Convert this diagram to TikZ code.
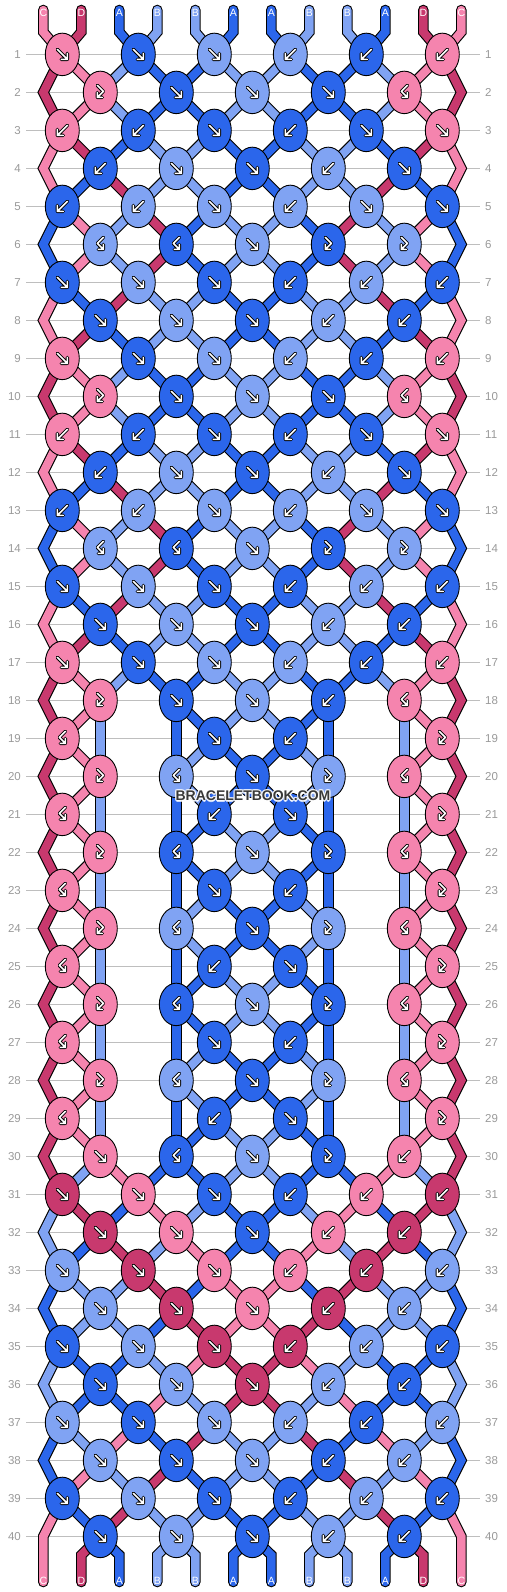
\documentclass[tikz,border=0pt]{standalone}
\usepackage{fontspec}
\setmainfont{Liberation Sans}
\usetikzlibrary{shapes.geometric}
\definecolor{strA}{HTML}{2B66EB}
\definecolor{strB}{HTML}{80A3F3}
\definecolor{strC}{HTML}{F584AE}
\definecolor{strD}{HTML}{C8396E}
\definecolor{rowgrey}{HTML}{BEBEBE}
\definecolor{numgrey}{HTML}{999999}
\definecolor{markgrey}{HTML}{383838}

\pgfdeclarelayer{grid}
\pgfdeclarelayer{outline}
\pgfdeclarelayer{strand}
\pgfsetlayers{grid,outline,strand,main}

\tikzset{
  knot/.style={ellipse,draw=black,line width=0.9pt,minimum width=34pt,minimum height=42.5pt,inner sep=0pt},
  strand edge/.style={draw=black,line width=10.6pt,line cap=round,line join=miter},
  strand core/.style={line width=8.4pt,line cap=round,line join=miter},
  rowline/.style={draw=rowgrey,line width=1.2pt},
  rownum/.style={text=numgrey,inner sep=0pt,font=\fontsize{11.5}{12}\selectfont},
  endlabel/.style={text=white,inner sep=0pt,font=\fontsize{10.5}{11}\selectfont},
  watermark/.style={text=markgrey,inner sep=0pt,font=\bfseries\fontsize{14}{14}\selectfont},
  halo/.style={watermark,text=white,text opacity=0.75},
  arrow edge/.style={draw=black,line width=3.4pt,line cap=round,line join=round},
  arrow core/.style={draw=white,line width=1.6pt,line cap=round,line join=round},
  pics/arrow f/.style={code={
    \draw[arrow edge] (-5,-5) -- (5,5) (-1,5) -- (5,5) -- (5,-1);
    \draw[arrow core] (-5,-5) -- (5,5) (-1,5) -- (5,5) -- (5,-1);}},
  pics/arrow b/.style={code={
    \draw[arrow edge] (5,-5) -- (-5,5) (1,5) -- (-5,5) -- (-5,-1);
    \draw[arrow core] (5,-5) -- (-5,5) (1,5) -- (-5,5) -- (-5,-1);}},
  pics/arrow fb/.style={code={
    \draw[arrow edge] (-3,-7) -- (3,-1) -- (-3,5) (2,5) -- (-3,5) -- (-3,0);
    \draw[arrow core] (-3,-7) -- (3,-1) -- (-3,5) (2,5) -- (-3,5) -- (-3,0);}},
  pics/arrow bf/.style={code={
    \draw[arrow edge] (3,-7) -- (-3,-1) -- (3,5) (-2,5) -- (3,5) -- (3,0);
    \draw[arrow core] (3,-7) -- (-3,-1) -- (3,5) (-2,5) -- (3,5) -- (3,0);}},
}

% strings are collected here and drawn at the end, under the knots
\gdef\strandlist{}
\newcommand\strandto[2]{%
  \edef\strandpath{\csname from#1\endcsname -- #2}%
  \edef\strandcol{str\csname sc#1\endcsname}%
  \xdef\strandlist{\unexpanded\expandafter{\strandlist}\noexpand\drawstrand{\strandcol}{\strandpath}}%
  \expandafter\xdef\csname from#1\endcsname{#2}}
\newcommand\passby[2]{%
  \expandafter\xdef\csname from#1\endcsname{\csname from#1\endcsname -- (p#2-#1)}}
\newcommand\drawedge[2]{\draw[strand edge] #2;}
\newcommand\drawcore[2]{\draw[strand core,draw=#1] #2;}
\newcommand\tieknot[3]{%
  \coordinate (p\row-\pa) at (\xk,\yr);
  \coordinate (p\row-\pb) at (\xk,\yr);
  \strandto{\pa}{(p\row-\pa)}%
  \strandto{\pb}{(p\row-\pb)}%
  \edef\lc{\csname sc\pa\endcsname}%
  \edef\rc{\csname sc\pb\endcsname}%
  \edef\kc{str\csname #1c\endcsname}%
  \node[knot,fill=\kc] (k\row-\kn) at (\xk,\yr) {};
  \pic at (k\row-\kn) {#3};
  \ifnum#2=1
    \expandafter\xdef\csname sc\pa\endcsname{\rc}%
    \expandafter\xdef\csname sc\pb\endcsname{\lc}%
  \fi}
\newcommand\knotf{\tieknot{l}{1}{arrow f}}
\newcommand\knotb{\tieknot{r}{1}{arrow b}}
\newcommand\knotfb{\tieknot{l}{0}{arrow fb}}
\newcommand\knotbf{\tieknot{r}{0}{arrow bf}}
\newcommand\knotn{%
  \coordinate (p\row-\pa) at (\xk-38,\yr);
  \coordinate (p\row-\pb) at (\xk+38,\yr);
  \passby{\pa}{\row}\passby{\pb}{\row}}

\def\knotrows{%
{f,f,f,b,b,b},{fb,f,f,f,bf},{b,b,f,b,f,f},{b,f,f,b,f},%
{b,b,f,b,f,f},{bf,bf,f,fb,fb},{f,f,f,b,b,b},{f,f,f,b,b},%
{f,f,f,b,b,b},{fb,f,f,f,bf},{b,b,f,b,f,f},{b,f,f,b,f},%
{b,b,f,b,f,f},{bf,bf,f,fb,fb},{f,f,f,b,b,b},{f,f,f,b,b},%
{f,f,f,b,b,b},{fb,f,f,b,bf},{bf,n,f,b,n,fb},{fb,bf,f,fb,bf},%
{bf,n,b,f,n,fb},{fb,bf,f,fb,bf},{bf,n,f,b,n,fb},{fb,bf,f,fb,bf},%
{bf,n,b,f,n,fb},{fb,bf,f,fb,bf},{bf,n,f,b,n,fb},{fb,bf,f,fb,bf},%
{bf,n,b,f,n,fb},{f,bf,f,fb,b},{f,f,f,b,b,b},{f,f,f,b,b},%
{f,f,f,b,b,b},{f,f,f,b,b},{f,f,f,b,b,b},{f,f,f,b,b},%
{f,f,f,b,b,b},{f,f,f,b,b},{f,f,f,b,b,b},{f,f,f,b,b}}

\begin{document}
\begin{tikzpicture}[x=1pt,y=-1pt]
  \useasboundingbox (0,0) rectangle (506,1592);

  \foreach \row in {1,...,40} {
    \pgfmathsetmacro\yr{54.4+38*(\row-1)}
    \node[rownum,anchor=east] (nl\row) at (21,\yr) {\row};
    \node[rownum,anchor=west] (nr\row) at (485,\yr) {\row};
  }
  \begin{pgfonlayer}{grid}
    \foreach \row in {1,...,40}
      \draw[rowline] ([xshift=5]nl\row.east) -- ([xshift=-5]nr\row.west);
  \end{pgfonlayer}

  \foreach \lbl [count=\p from 0] in {C,D,A,B,B,A,A,B,B,A,D,C} {
    \pgfmathsetmacro\xp{43.3+38*\p}
    \coordinate (top\p) at (\xp,10);
    \coordinate (bend\p) at (\xp,32);
    \node[endlabel] (lt\p) at (\xp,12.5) {\lbl};
    \expandafter\xdef\csname sc\p\endcsname{\lbl}
    \expandafter\xdef\csname from\p\endcsname{(top\p) -- (bend\p)}
  }

  \foreach \kl [count=\row] in \knotrows {
    \pgfmathsetmacro\yr{54.4+38*(\row-1)}
    \pgfmathtruncatemacro\oddrow{mod(\row,2)}
    \ifnum\oddrow=0
      \coordinate (p\row-0) at (43.3,\yr);
      \coordinate (p\row-11) at (461.3,\yr);
      \passby{0}{\row}\passby{11}{\row}
    \fi
    \foreach \kt [count=\kn from 0] in \kl {
      \pgfmathtruncatemacro\pa{2*\kn+1-\oddrow}
      \pgfmathtruncatemacro\pb{\pa+1}
      \pgfmathsetmacro\xk{62.3+38*(1-\oddrow)+76*\kn}
      \csname knot\kt\endcsname
    }
  }

  \foreach \p in {0,...,11} {
    \pgfmathsetmacro\xp{43.3+38*\p}
    \coordinate (botb\p) at (\xp,1555);
    \coordinate (bot\p) at (\xp,1582);
    \strandto{\p}{(botb\p) -- (bot\p)}
    \node[endlabel] (lb\p) at (\xp,1580.5) {\csname sc\p\endcsname};
  }

  \begin{pgfonlayer}{outline}
    \let\drawstrand\drawedge \strandlist
  \end{pgfonlayer}
  \begin{pgfonlayer}{strand}
    \let\drawstrand\drawcore \strandlist
  \end{pgfonlayer}

  \foreach \dx/\dy in {-1.2/0,1.2/0,0/-1.2,0/1.2,-0.9/-0.9,0.9/-0.9,-0.9/0.9,0.9/0.9}
    \node[halo] at (253+\dx,796+\dy) {BRACELETBOOK.COM};
  \node[watermark] (mark) at (253,796) {BRACELETBOOK.COM};
\end{tikzpicture}
\end{document}
